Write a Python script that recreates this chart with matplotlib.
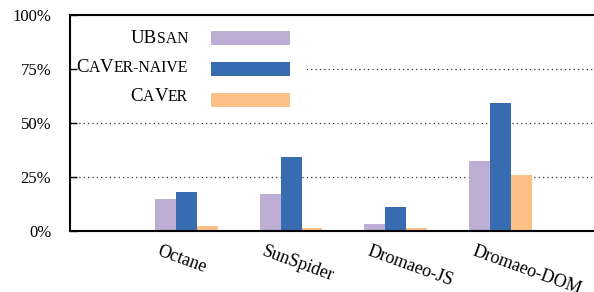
import matplotlib.pyplot as plt
import matplotlib.transforms as mtransforms
from matplotlib.patches import Rectangle
import numpy as np

plt.rcParams['font.family'] = ['Liberation Serif', 'DejaVu Serif']

benchmarks = ['Octane', 'SunSpider', 'Dromaeo-JS', 'Dromaeo-DOM']
ubsan = [14.8, 17.1, 3.4, 32.4]
caver_naive = [18.0, 34.3, 11.1, 59.3]
caver = [2.3, 1.5, 1.5, 25.9]
y_ticks = [0, 25, 50, 75, 100]
y_tick_labels = ['0%', '25%', '50%', '75%', '100%']

colors = ['#beaed4', '#386cb0', '#fdc086']

fig = plt.figure(figsize=(5.94, 2.92), dpi=100)
ax_w = 1 - 70 / 594
ax = fig.add_axes([70 / 594, 61 / 292, ax_w, 216 / 292])

x = np.arange(len(benchmarks))
w = 0.2
b1 = ax.bar(x - w, ubsan, w, color=colors[0], zorder=1)
b2 = ax.bar(x, caver_naive, w, color=colors[1], zorder=1)
b3 = ax.bar(x + w, caver, w, color=colors[2], zorder=1)

ax.set_xlim(-1.105, 3.886)
ax.set_ylim(0, 100)
ax.set_yticks(y_ticks)
ax.set_yticklabels(y_tick_labels, fontsize=12)
ax.set_xticks(x)
ax.set_xticklabels(benchmarks, fontsize=13, rotation=-20, ha='left', va='top')
ax.tick_params(axis='y', direction='in', length=5, width=1, pad=13.5)
ax.tick_params(axis='x', length=0, pad=8.5)
shift = mtransforms.ScaledTranslation(-31 / 100, 0, fig.dpi_scale_trans)
for lbl in ax.get_xticklabels():
    lbl.set_transform(lbl.get_transform() + shift)

for s in ['left', 'top', 'bottom']:
    ax.spines[s].set_linewidth(1.5)
ax.spines['right'].set_visible(False)
for v in [25, 50, 75]:
    ax.axhline(v, color='#333333', lw=0.9, ls=(0, (1, 2.5)), zorder=0.5)

# white box behind the legend (hides the 75% grid line there)
ax.add_patch(Rectangle((0, 0.6), 237 / (594 * ax_w), 0.39, transform=ax.transAxes,
                       facecolor='white', edgecolor='none', zorder=0.8))

# legend: coloured patches only, labels drawn separately in small caps
fs = 12 * 100 / 72
leg = ax.legend([b1, b2, b3], ['', '', ''], fontsize=12, markerfirst=False,
                handlelength=79 / fs, handleheight=15 / fs, labelspacing=0.86,
                borderpad=17 / fs, handletextpad=(237 - 34 - 79) / fs,
                loc='upper left', bbox_to_anchor=(70 / 594, 1 - 13.7 / 292),
                bbox_transform=fig.transFigure, borderaxespad=0, frameon=False)

fig.canvas.draw()
renderer = fig.canvas.get_renderer()


def small_caps(parts, x_right, y_base, big=13.5, small=11.3):
    # parts: list of (text, is_big); laid out right to left on one baseline
    xr = x_right
    for txt, is_big in reversed(parts):
        t = fig.text(xr / 594, 1 - y_base / 292, txt, fontsize=big if is_big else small,
                     ha='right', va='baseline', zorder=10)
        xr -= t.get_window_extent(renderer).width


small_caps([('UB', True), ('SAN', False)], 188, 42.7)
small_caps([('C', True), ('A', False), ('V', True), ('ER-NAIVE', False)], 188, 71.7)
small_caps([('C', True), ('A', False), ('V', True), ('ER', False)], 188, 100.7)

fig.savefig('out.png', dpi=100)
